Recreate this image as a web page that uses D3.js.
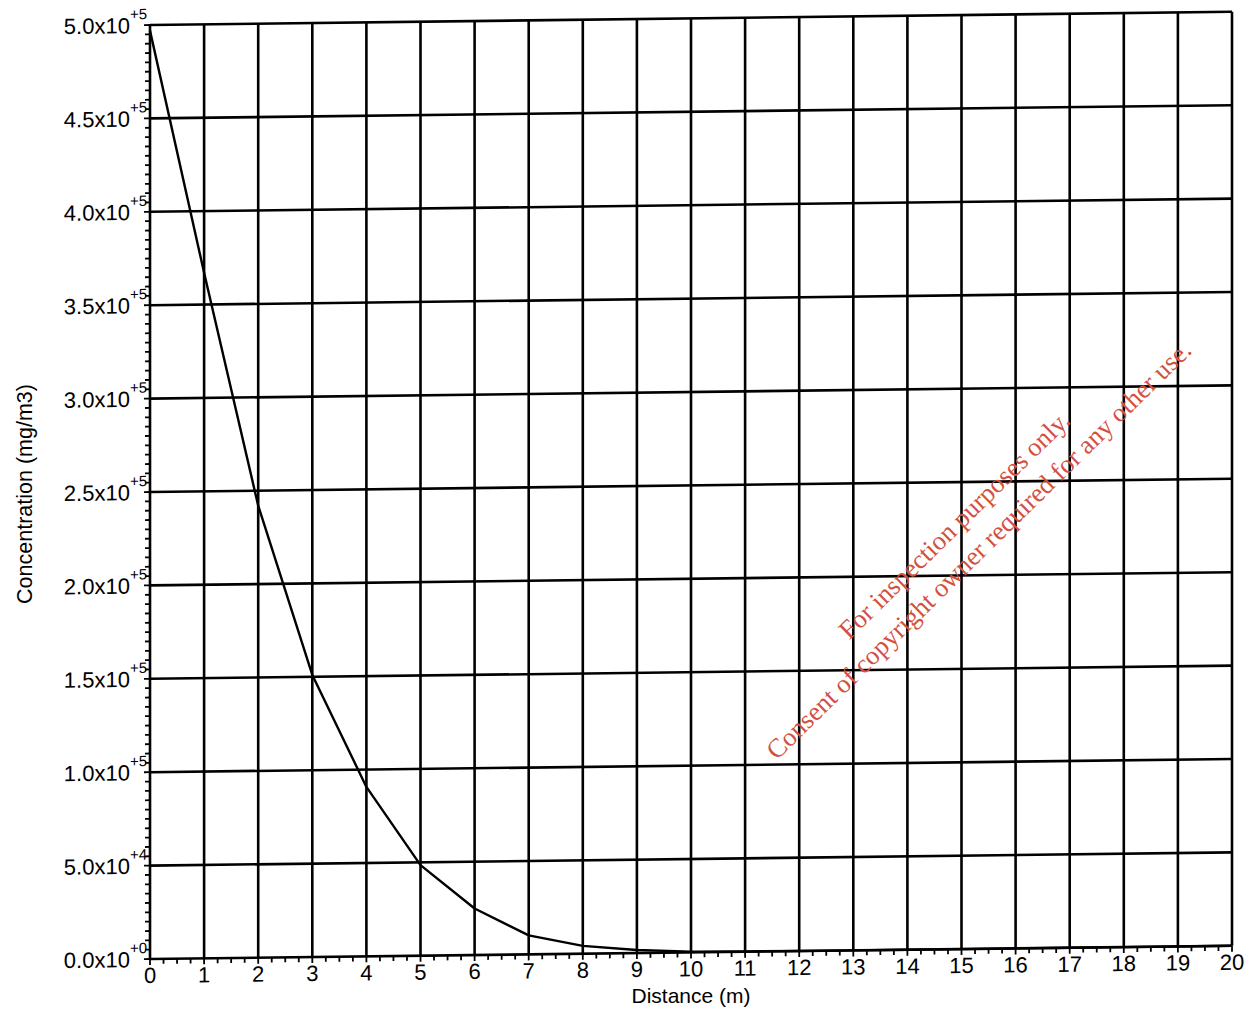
<!DOCTYPE html>
<html>
<head>
<meta charset="utf-8">
<script src="https://cdn.jsdelivr.net/npm/d3@7"></script>
<style>
  html, body { margin: 0; padding: 0; background: #fff; }
  svg { display: block; }
  text { font-family: "Liberation Sans", Arial, sans-serif; fill: #000; }
</style>
</head>
<body>
<svg id="chart" width="1252" height="1014"></svg>
<script>
// ---- data ----
const distances = [0, 1, 2, 3, 4, 5, 6, 7, 8, 9, 10, 11, 12, 13, 14, 15, 16, 17, 18, 19, 20];
const concentration = [497000, 367000, 242000, 151000, 90700, 48500, 24900, 10200, 4200, 1600, 400, 150, 60, 20, 8, 3, 1, 0, 0, 0, 0];
const xTicks = [0, 1, 2, 3, 4, 5, 6, 7, 8, 9, 10, 11, 12, 13, 14, 15, 16, 17, 18, 19, 20];
const yTicks = [0, 50000, 100000, 150000, 200000, 250000, 300000, 350000, 400000, 450000, 500000];
const yTickMantissa = ["0.0", "5.0", "1.0", "1.5", "2.0", "2.5", "3.0", "3.5", "4.0", "4.5", "5.0"];
const yTickExponent = ["+0", "+4", "+5", "+5", "+5", "+5", "+5", "+5", "+5", "+5", "+5"];
const xTitle = "Distance (m)";
const yTitle = "Concentration (mg/m3)";
const watermark = ["For inspection purposes only.", "Consent of copyright owner required for any other use."];

// ---- layout ----
const svg = d3.select("#chart");
const mLeft = 150, mTop = 25, plotW = 1082, plotH = 934;
const skewDeg = -0.7; // scan skew in degrees

const x = d3.scaleLinear().domain([0, 20]).range([0, plotW]);
const y = d3.scaleLinear().domain([0, 500000]).range([plotH, 0]);

const g = svg.append("g").attr("transform", `translate(${mLeft},${mTop}) skewY(${skewDeg})`);

// grid lines
g.append("g").selectAll("line").data(yTicks).join("line")
  .attr("x1", 0).attr("x2", plotW)
  .attr("y1", d => y(d)).attr("y2", d => y(d))
  .attr("stroke", "#000").attr("stroke-width", 2.6);
g.append("g").selectAll("line").data(xTicks).join("line")
  .attr("x1", d => x(d)).attr("x2", d => x(d))
  .attr("y1", 0).attr("y2", plotH)
  .attr("stroke", "#000").attr("stroke-width", 2.6);

// x axis minor ticks
const xMinor = d3.range(0, 20.001, 0.25);
g.append("g").selectAll("line").data(xMinor).join("line")
  .attr("x1", d => x(d)).attr("x2", d => x(d))
  .attr("y1", plotH).attr("y2", d => plotH + (Math.abs(d - Math.round(d)) < 1e-6 ? 6 : 5))
  .attr("stroke", "#000").attr("stroke-width", 1.8);
// y axis minor ticks
const yMinor = d3.range(0, 500001, 5000);
g.append("g").selectAll("line").data(yMinor).join("line")
  .attr("x1", 0).attr("x2", d => (d % 50000 === 0 ? -6 : -5))
  .attr("y1", d => y(d)).attr("y2", d => y(d))
  .attr("stroke", "#000").attr("stroke-width", 1.8);

// x tick labels
g.append("g").selectAll("text").data(xTicks).join("text")
  .attr("x", d => x(d)).attr("y", plotH + 24)
  .attr("text-anchor", "middle")
  .attr("font-size", 22)
  .text(d => d);

// y tick labels
const yl = g.append("g").selectAll("text").data(yTicks).join("text")
  .attr("x", -3).attr("y", d => y(d) + 8)
  .attr("text-anchor", "end")
  .attr("font-size", 22);
yl.append("tspan").text((d, i) => yTickMantissa[i] + "x10");
yl.append("tspan").attr("dy", -14).attr("font-size", 15).text((d, i) => yTickExponent[i]);

// curve
const line = d3.line().x((d, i) => x(distances[i])).y(d => y(d));
g.append("path").datum(concentration)
  .attr("d", line)
  .attr("fill", "none").attr("stroke", "#000").attr("stroke-width", 2.4)
  .attr("stroke-linejoin", "round");

// axis titles
svg.append("text").attr("x", 691).attr("y", 1003)
  .attr("text-anchor", "middle").attr("font-size", 21).text(xTitle);
svg.append("text").attr("transform", "translate(32,494) rotate(-90)")
  .attr("text-anchor", "middle").attr("font-size", 21.5).text(yTitle);

// watermark
const wm = svg.append("g").attr("transform", "translate(966,537) rotate(-44.5)");
wm.selectAll("text").data(watermark).join("text")
  .attr("x", 0).attr("y", (d, i) => (i === 0 ? -8 : 27))
  .attr("text-anchor", "middle")
  .attr("font-size", 26.5)
  .style("font-family", "'Liberation Serif', 'Times New Roman', serif")
  .style("fill", "#d4503f")
  .text(d => d);
</script>
</body>
</html>
